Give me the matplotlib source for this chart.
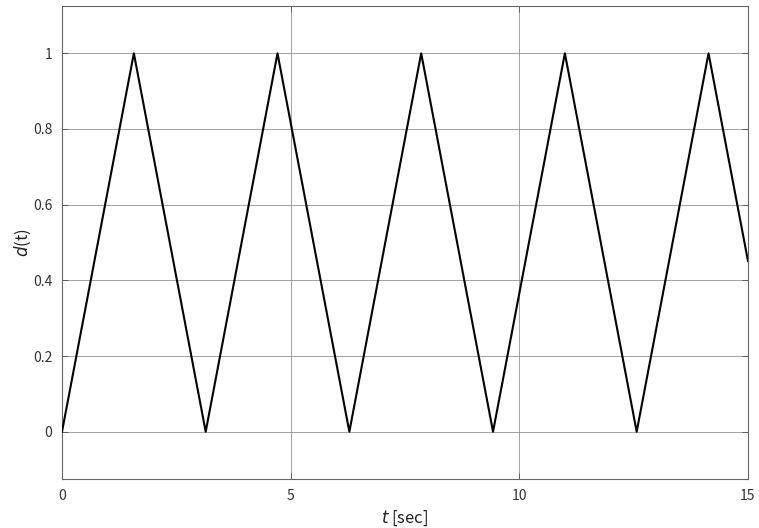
import matplotlib
matplotlib.use('Agg')
import matplotlib.pyplot as plt

plt.rcParams['font.family'] = ['Noto Sans CJK JP', 'DejaVu Sans']

# 三角波の頂点 (読み取り値)
t_pts = [0.0, 1.571, 3.142, 4.712, 6.283, 7.854, 9.425, 10.996, 12.566, 14.137, 15.0]
d_pts = [0.0, 1.0, 0.0, 1.0, 0.0, 1.0, 0.0, 1.0, 0.0, 1.0, 0.451]

x_ticks = [0, 5, 10, 15]
y_ticks = [0, 0.2, 0.4, 0.6, 0.8, 1]
y_labels = ['0', '0.2', '0.4', '0.6', '0.8', '1']

fig = plt.figure(figsize=(7.59, 5.28), dpi=100)
ax = fig.add_axes([0.0817, 0.0928, 0.9038, 0.8958])

ax.plot(t_pts, d_pts, color='black', linewidth=1.5, zorder=3)

ax.set_xlim(0, 15)
ax.set_ylim(-0.125, 1.125)
ax.set_xticks(x_ticks)
ax.set_xticklabels([str(v) for v in x_ticks])
ax.set_yticks(y_ticks)
ax.set_yticklabels(y_labels)

ax.grid(True, color='#8a8a8a', linewidth=0.55)
ax.tick_params(direction='in', length=4, width=0.6, color='#555555',
               labelsize=10, labelcolor='#333333', top=True, right=True, pad=7)
for s in ax.spines.values():
    s.set_color('#666666')
    s.set_linewidth(0.8)

ax.set_xlabel(r'$t$ [sec]', fontsize=12, labelpad=4, color='#222222')
ax.set_ylabel(r'$d$(t)', fontsize=12, labelpad=0, color='#222222')

fig.savefig('out.png', dpi=100)
